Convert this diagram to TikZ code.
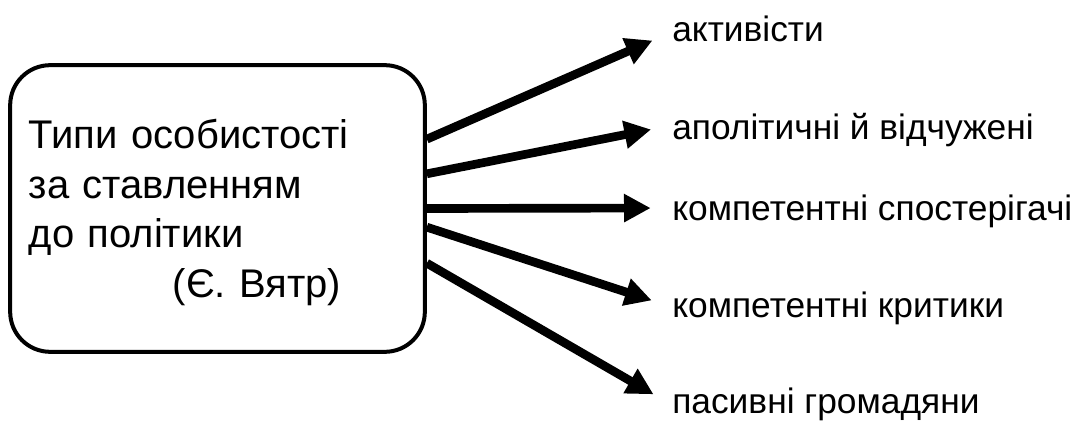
\documentclass[tikz,border=0pt]{standalone}
\usepackage{fontspec}
\setmainfont{Liberation Sans}
\usetikzlibrary{arrows.meta}
\begin{document}
\begin{tikzpicture}[x=0.75pt,y=-0.75pt,
  typebox/.style={draw, line width=3pt, rounded corners=30pt,
    minimum height=215pt, text width=283pt, inner xsep=14pt, text height=28pt,
    align=left, font=\fontsize{30}{37.3}\selectfont},
  kind/.style={anchor=base west, inner sep=0pt, font=\fontsize{26.5}{30}\selectfont},
  fan/.style={line width=6.5pt, -{Triangle[length=20pt,width=20pt]}, shorten >=16pt}]
  \useasboundingbox (0,0) rectangle (1073,424);
  % Рамка з назвою
  \node[typebox] (types) at (217.5,208.5)
    {Типи особистості\\за ставленням\\до політики\\\hspace*{108pt}(Є. Вятр)};
  % Типи особистості
  \node[kind] (activists) at (672,42) {активісти};
  \node[kind] (apolitical) at (672,140) {аполітичні й відчужені};
  \node[kind] (observers) at (672,220) {компетентні спостерігачі};
  \node[kind] (critics) at (672,317) {компетентні критики};
  \node[kind] (passive) at (672,413) {пасивні громадяни};
  % Стрілки від рамки
  \draw[fan] ([yshift=52pt]types.east) -- ([yshift=7.5pt]activists.base west);
  \draw[fan] ([yshift=26pt]types.east) -- ([yshift=11pt]apolitical.base west);
  \draw[fan] (types.east) -- ([yshift=9pt]observers.base west);
  \draw[fan] ([yshift=-14pt]types.east) -- ([yshift=7.5pt]critics.base west);
  \draw[fan] ([yshift=-41pt]types.east) -- ([yshift=6pt]passive.base west);
\end{tikzpicture}
\end{document}
